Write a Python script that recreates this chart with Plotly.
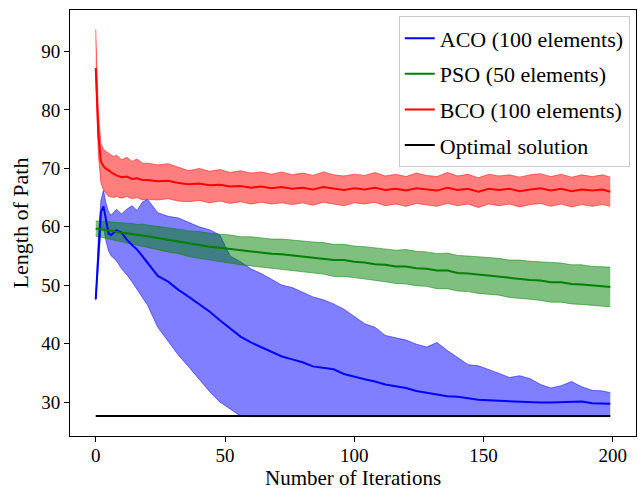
import plotly.graph_objects as go

iterations = [0, 1, 2, 3, 4, 5, 6, 7, 8, 10, 12, 14, 16, 18, 20, 24, 28, 32, 36, 40,
              44, 48, 52, 56, 60, 64, 68, 72, 76, 80, 84, 88, 92, 96, 100, 104, 108, 112, 116, 120,
              124, 128, 132, 136, 140, 144, 148, 152, 156, 160, 164, 168, 172, 176, 180, 184, 188, 192, 196, 199]

aco_mean = [47.6, 56.0, 62.5, 63.5, 61.0, 58.8, 58.6, 59.0, 59.4, 59.0, 57.8, 56.9, 56.1, 55.0, 53.8, 51.6, 50.6, 49.2, 48.0, 46.8,
            45.5, 44.0, 42.6, 41.2, 40.2, 39.4, 38.6, 37.8, 37.3, 36.8, 36.1, 35.9, 35.6, 34.8, 34.3, 33.9, 33.5, 33.0, 32.7, 32.4,
            31.9, 31.6, 31.3, 31.0, 30.9, 30.6, 30.4, 30.3, 30.2, 30.1, 30.1, 30.0, 29.9, 29.9, 30.0, 30.1, 30.1, 29.8, 29.7, 29.7]
aco_upper = [47.8, 58.0, 64.5, 66.2, 64.0, 62.5, 62.0, 62.6, 63.0, 62.2, 63.0, 63.6, 62.8, 64.2, 64.7, 62.4, 61.8, 61.5, 60.7, 60.0,
             59.5, 58.6, 55.0, 54.0, 52.8, 52.0, 51.0, 50.0, 49.6, 48.8, 48.0, 47.5, 46.8, 45.9, 44.6, 43.4, 42.8, 41.4, 41.0, 40.6,
             39.9, 39.4, 40.2, 38.8, 37.6, 36.4, 36.2, 35.6, 34.9, 34.2, 34.5, 34.0, 33.0, 32.4, 32.8, 33.5, 32.6, 32.0, 31.9, 31.6]
aco_lower = [47.4, 53.0, 59.5, 60.0, 57.5, 55.8, 55.0, 54.6, 54.2, 52.8, 51.8, 50.6, 49.2, 48.0, 46.6, 42.8, 40.3, 38.0, 36.0, 33.8,
             31.8, 30.0, 28.8, 27.6, 27.5, 27.5, 27.5, 27.5, 27.5, 27.5, 27.5, 27.5, 27.5, 27.5, 27.5, 27.5, 27.5, 27.5, 27.5, 27.5,
             27.5, 27.5, 27.5, 27.5, 27.5, 27.5, 27.5, 27.5, 27.5, 27.5, 27.5, 27.5, 27.5, 27.5, 27.5, 27.5, 27.5, 27.5, 27.5, 27.5]

pso_mean = [59.7, 59.6, 59.6, 59.5, 59.4, 59.4, 59.3, 59.2, 59.2, 59.0, 58.9, 58.8, 58.6, 58.6, 58.4, 58.1, 57.8, 57.5, 57.1, 56.9,
            56.6, 56.4, 56.2, 55.9, 55.8, 55.6, 55.4, 55.3, 55.1, 55.0, 54.7, 54.6, 54.3, 54.3, 54.0, 53.9, 53.6, 53.5, 53.2, 53.2,
            52.9, 52.8, 52.5, 52.5, 52.1, 52.0, 51.8, 51.6, 51.5, 51.2, 51.1, 50.9, 50.8, 50.5, 50.5, 50.2, 50.1, 49.9, 49.8, 49.7]
pso_upper = [61.0, 61.0, 61.0, 60.9, 60.9, 60.9, 60.8, 60.8, 60.8, 60.7, 60.6, 60.6, 60.4, 60.5, 60.3, 60.1, 59.9, 59.6, 59.3, 59.2,
             58.9, 58.8, 58.6, 58.3, 58.3, 58.1, 57.9, 57.9, 57.7, 57.6, 57.4, 57.3, 57.0, 57.0, 56.7, 56.6, 56.4, 56.3, 56.0, 56.1,
             55.8, 55.7, 55.4, 55.5, 55.1, 55.0, 54.9, 54.7, 54.6, 54.3, 54.3, 54.1, 54.0, 53.8, 53.8, 53.5, 53.5, 53.2, 53.2, 53.1]
pso_lower = [58.4, 58.3, 58.2, 58.1, 58.0, 57.9, 57.8, 57.7, 57.6, 57.4, 57.2, 57.0, 56.8, 56.7, 56.5, 56.1, 55.7, 55.4, 54.9, 54.6,
             54.3, 54.0, 53.8, 53.5, 53.3, 53.1, 52.9, 52.7, 52.5, 52.3, 52.0, 51.9, 51.5, 51.5, 51.3, 51.1, 50.8, 50.6, 50.3, 50.2,
             49.9, 49.8, 49.4, 49.4, 49.0, 48.9, 48.6, 48.4, 48.3, 47.9, 47.8, 47.6, 47.4, 47.1, 47.1, 46.8, 46.7, 46.5, 46.4, 46.3]

bco_mean = [87.2, 76.0, 71.2, 70.4, 69.9, 69.7, 69.3, 69.0, 68.8, 68.5, 68.6, 68.2, 68.3, 68.0, 68.0, 67.8, 67.9, 67.5, 67.3, 67.4,
            67.1, 67.2, 66.9, 67.0, 66.7, 66.9, 66.6, 66.8, 66.5, 66.7, 66.4, 66.8, 66.5, 66.3, 66.6, 66.4, 66.7, 66.3, 66.5, 66.2,
            66.6, 66.4, 66.2, 66.7, 66.3, 66.5, 66.0, 66.5, 66.3, 66.5, 66.1, 66.4, 66.6, 66.2, 66.5, 66.1, 66.4, 66.2, 66.4, 66.0]
bco_upper = [93.8, 80.0, 74.2, 73.3, 72.9, 72.6, 72.4, 72.0, 72.3, 71.5, 71.9, 71.2, 71.6, 70.9, 70.9, 70.6, 70.8, 70.2, 69.6, 70.0,
             69.5, 69.8, 69.3, 69.6, 69.2, 69.4, 69.0, 69.4, 68.9, 69.2, 68.8, 69.4, 68.9, 68.7, 69.0, 68.8, 69.3, 68.7, 69.0, 68.6,
             69.2, 68.8, 68.6, 69.3, 68.7, 69.0, 68.4, 69.0, 68.7, 68.9, 68.5, 68.9, 69.1, 68.6, 69.0, 68.5, 68.9, 68.6, 68.9, 68.5]
bco_lower = [86.5, 72.5, 67.6, 66.3, 65.7, 65.2, 65.1, 65.0, 65.2, 64.9, 65.2, 64.8, 65.0, 64.6, 64.7, 64.6, 64.8, 64.4, 64.3, 64.5,
             64.1, 64.4, 64.0, 64.3, 63.9, 64.2, 63.9, 64.1, 63.8, 64.1, 63.7, 64.2, 63.9, 63.6, 64.1, 63.9, 64.2, 63.6, 63.9, 63.5,
             64.0, 63.8, 63.5, 64.0, 63.6, 63.9, 63.3, 63.9, 63.6, 63.9, 63.4, 63.8, 64.0, 63.5, 63.9, 63.4, 63.8, 63.5, 63.8, 63.5]

optimal_x = [0, 199]
optimal_y = [27.6, 27.6]

series = [
    ("ACO (100 elements)", aco_mean, aco_upper, aco_lower, "#0000ff", "rgba(0,0,255,0.5)"),
    ("PSO (50 elements)", pso_mean, pso_upper, pso_lower, "#008000", "rgba(0,128,0,0.5)"),
    ("BCO (100 elements)", bco_mean, bco_upper, bco_lower, "#ff0000", "rgba(255,0,0,0.5)"),
]

FONT = "Liberation Serif"
TEXT_SIZE = 22
fig = go.Figure()

for name, mean, up, lo, col, fillcol in series:
    fig.add_trace(go.Scatter(x=iterations, y=lo, mode="lines", line=dict(color=fillcol, width=1),
                             showlegend=False, hoverinfo="skip"))
    fig.add_trace(go.Scatter(x=iterations, y=up, mode="lines", line=dict(color=fillcol, width=1),
                             fill="tonexty", fillcolor=fillcol, showlegend=False, hoverinfo="skip"))

for i, (name, mean, up, lo, col, fillcol) in enumerate(series):
    fig.add_trace(go.Scatter(x=iterations, y=mean, mode="lines", name=name,
                             line=dict(color=col, width=2), legendgroup=f"g{i}"))

fig.add_trace(go.Scatter(x=optimal_x, y=optimal_y, mode="lines", name="Optimal solution",
                         line=dict(color="#000000", width=2), legendgroup="g3"))

axis_common = dict(showline=True, linecolor="black", linewidth=1, mirror=True,
                   ticks="outside", ticklen=5, tickwidth=1, tickcolor="black",
                   showgrid=False, zeroline=False,
                   tickfont=dict(family=FONT, size=19, color="black"))

fig.update_layout(
    width=638, height=489,
    margin=dict(l=70, r=2, t=10, b=53),
    plot_bgcolor="white", paper_bgcolor="white",
    font=dict(family=FONT, size=19, color="black"),
    xaxis=dict(range=[-9.95, 208.95], tickvals=[0, 50, 100, 150, 200],
               ticklabelstandoff=-3, **axis_common),
    yaxis=dict(range=[24.18, 97.12], tickvals=[30, 40, 50, 60, 70, 80, 90],
               title=dict(text="Length of Path", font=dict(family=FONT, size=TEXT_SIZE), standoff=6),
               **axis_common),
    legend=dict(x=0.989, y=0.985, xanchor="right", yanchor="top",
                bgcolor="rgba(255,255,255,0.8)", bordercolor="#cccccc", borderwidth=1,
                font=dict(family=FONT, size=TEXT_SIZE, color="black"), tracegroupgap=4,
                traceorder="grouped"),
    showlegend=True,
    annotations=[dict(text="Number of Iterations", xref="paper", yref="paper",
                      x=0.5, y=-0.099, xanchor="center", yanchor="middle", showarrow=False,
                      font=dict(family=FONT, size=21, color="black"))],
)

fig.write_html("out.html", config={"displayModeBar": False},
               post_script="document.body.style.margin='0';document.body.style.padding='0';")
